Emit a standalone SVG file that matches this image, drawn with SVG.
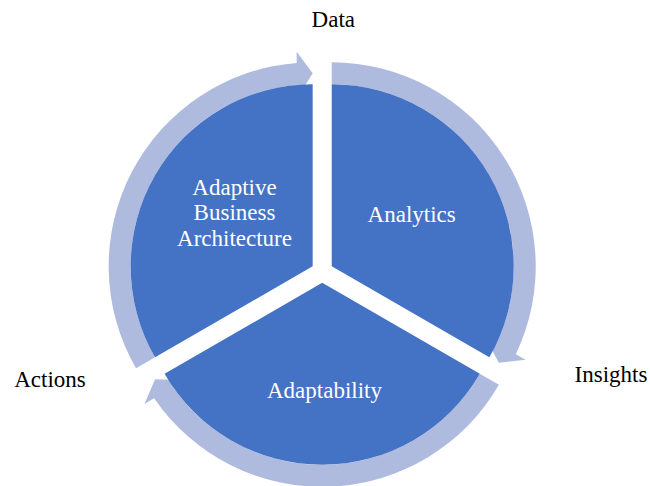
<svg xmlns="http://www.w3.org/2000/svg" width="650" height="486" viewBox="0 0 650 486">
  <style>
    .seg { fill: #4472C4; }
    .arc { fill: #AFBBDE; }
    text { font-family: "Liberation Serif", "Times New Roman", "DejaVu Serif", serif; font-size: 23px; text-anchor: middle; }
    .in { fill: #FFFFFF; }
    .out { fill: #000000; }
  </style>
  <rect width="650" height="486" fill="#FFFFFF"/>
  <g id="connectors">
    <path class="arc" d="M136.0,368.3 A204,204 0 0 1 296.67,62.93 L296.67,51.8 L312.67,73.3 L296.67,99.3 L296.67,85.0 A182,182 0 0 0 155.05,357.3 Z"/>
    <path class="arc" d="M331.73,62.3 A204,204 0 0 1 515.85,354.13 L525.49,359.69 L498.87,362.8 L484.36,335.94 L496.74,343.09 A182,182 0 0 0 331.73,84.3 Z"/>
    <path class="arc" d="M498.87,384.8 A204,204 0 0 1 154.08,398.35 L144.44,403.91 L155.06,379.3 L185.57,380.16 L173.19,387.31 A182,182 0 0 0 479.82,373.8 Z"/>
  </g>
  <g id="node-aba">
    <path class="seg" d="M312.67,266.3 L155.05,357.3 A182,182 0 0 1 312.67,84.3 Z"/>
    <text class="in" font-family="Liberation Serif, serif" x="234.5" y="194.5">Adaptive</text>
    <text class="in" font-family="Liberation Serif, serif" x="234.5" y="220">Business</text>
    <text class="in" font-family="Liberation Serif, serif" x="234.5" y="245.7">Architecture</text>
  </g>
  <g id="node-analytics">
    <path class="seg" d="M331.73,266.3 L331.73,84.3 A182,182 0 0 1 489.35,357.3 Z"/>
    <text class="in" font-family="Liberation Serif, serif" x="411.7" y="221.7">Analytics</text>
  </g>
  <g id="node-adaptability">
    <path class="seg" d="M322.2,282.8 L479.82,373.8 A182,182 0 0 1 164.58,373.8 Z"/>
    <text class="in" font-family="Liberation Serif, serif" x="324.5" y="398.3">Adaptability</text>
  </g>
  <g id="label-data"><text class="out" font-family="Liberation Serif, serif" x="333.3" y="27">Data</text></g>
  <g id="label-insights"><text class="out" font-family="Liberation Serif, serif" x="611" y="382">Insights</text></g>
  <g id="label-actions"><text class="out" font-family="Liberation Serif, serif" x="50" y="387">Actions</text></g>
</svg>
